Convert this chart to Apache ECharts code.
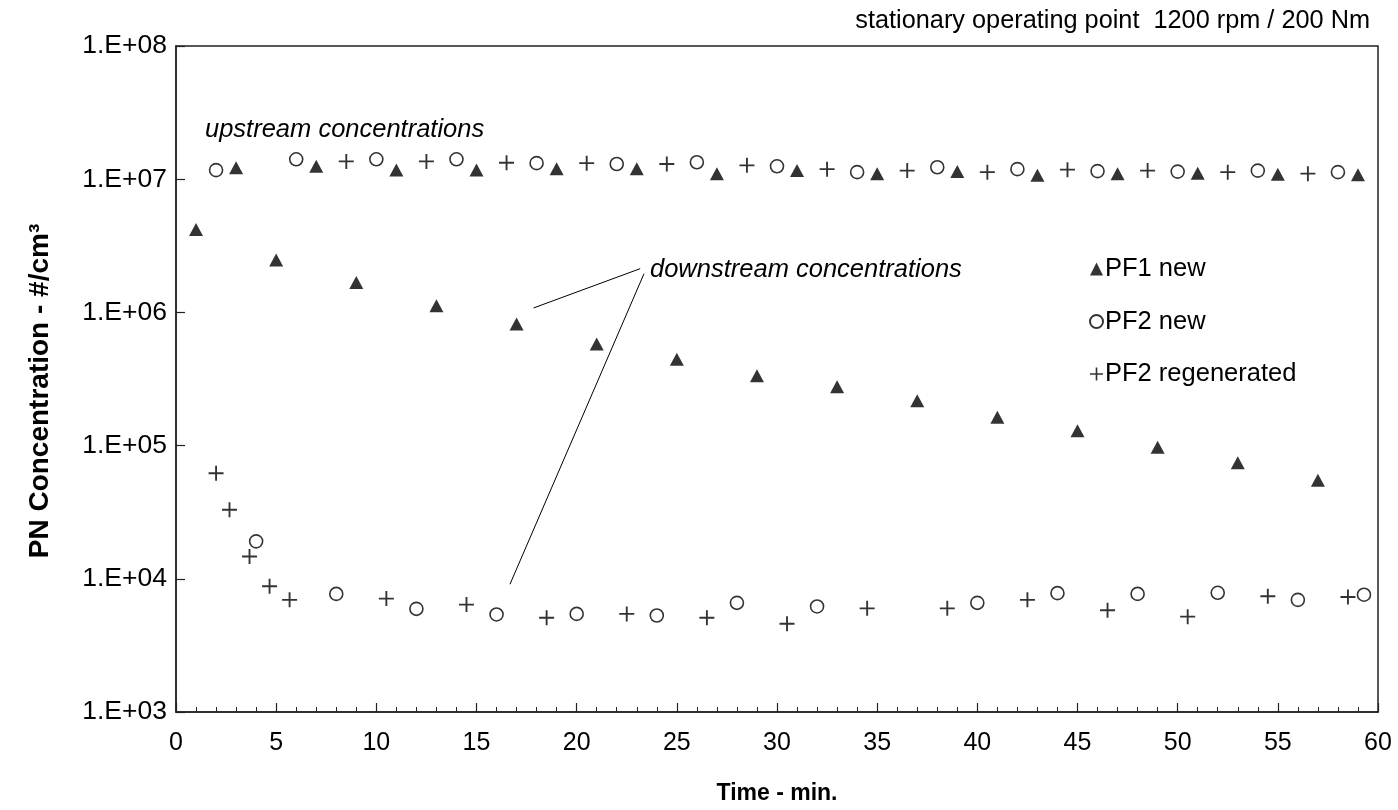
<!DOCTYPE html>
<html>
<head>
<meta charset="utf-8">
<script src="https://cdn.jsdelivr.net/npm/echarts/dist/echarts.min.js"></script>
<style>
html,body{margin:0;padding:0;background:#fff;}
#chart{width:1398px;height:810px;}
</style>
</head>
<body>
<div id="chart"></div>
<script>
// ---- data ----
const pf1Time = [1,3,5,7,9,11,13,15,17,19,21,23,25,27,29,31,33,35,37,39,41,43,45,47,49,51,53,55,57,59];
const pf1Value = [4.2e6,1.22e7,2.47e6,1.25e7,1.68e6,1.17e7,1.12e6,1.17e7,8.2e5,1.2e7,5.8e5,1.2e7,4.45e5,1.1e7,3.34e5,1.16e7,2.76e5,1.1e7,2.17e5,1.14e7,1.63e5,1.07e7,1.29e5,1.1e7,9.7e4,1.11e7,7.45e4,1.09e7,5.5e4,1.08e7];

const pf2Time = [2,4,6,8,10,12,14,16,18,20,22,24,26,28,30,32,34,38,40,42,44,46,48,50,52,54,56,58,59.3];
const pf2Value = [1.17e7,1.91e4,1.41e7,7.7e3,1.41e7,5.95e3,1.41e7,5.4e3,1.32e7,5.45e3,1.3e7,5.3e3,1.34e7,6.6e3,1.25e7,6.2e3,1.13e7,1.23e7,6.6e3,1.19e7,7.8e3,1.15e7,7.7e3,1.14e7,7.85e3,1.16e7,6.95e3,1.13e7,7.6e3];

const regTime = [2,2.67,3.67,4.67,5.67,8.5,10.5,12.5,14.5,16.5,18.5,20.5,22.5,24.5,26.5,28.5,30.5,32.5,34.5,36.5,38.5,40.5,42.5,44.5,46.5,48.5,50.5,52.5,54.5,56.5,58.5];
const regValue = [6.2e4,3.3e4,1.47e4,8.8e3,6.95e3,1.36e7,7.1e3,1.36e7,6.4e3,1.33e7,5.1e3,1.32e7,5.45e3,1.3e7,5.1e3,1.27e7,4.6e3,1.19e7,6.0e3,1.16e7,6.0e3,1.13e7,6.95e3,1.18e7,5.8e3,1.16e7,5.2e3,1.13e7,7.4e3,1.1e7,7.3e3];

const seriesNames = ['PF1 new','PF2 new','PF2 regenerated'];
const yTicks = [1e3,1e4,1e5,1e6,1e7,1e8];
const xTicks = [0,5,10,15,20,25,30,35,40,45,50,55,60];

// annotation leader lines (time, concentration)
const leaderA = [[17.85,1.08e6],[23.17,2.13e6]];
const leaderB = [[23.36,1.95e6],[16.67,9.1e3]];

const zip = (t, v) => t.map((x, i) => [x, v[i]]);
const FONT = '"Liberation Sans", Arial, sans-serif';
const PLUS = 'path://M0,7H7V0H9V7H16V9H9V16H7V9H0Z';

const chart = echarts.init(document.getElementById('chart'), null, {renderer:'canvas'});
chart.setOption({
  animation:false,
  backgroundColor:'#fff',
  textStyle:{fontFamily:FONT, color:'#000'},
  title:{
    text:'stationary operating point  1200 rpm / 200 Nm',
    right:23, top:4,
    textStyle:{fontFamily:FONT, fontSize:25.3, fontWeight:'normal', color:'#000'}
  },
  grid:{left:176, right:20, top:46, bottom:95, show:true, borderColor:'#222', borderWidth:1.5, containLabel:false},
  legend:{
    orient:'vertical', left:1084, top:251,
    itemWidth:13, itemHeight:13, itemGap:26.5,
    textStyle:{fontFamily:FONT, fontSize:25.5, color:'#000', padding:[0,0,0,-3]},
    data:[
      {name:seriesNames[0], icon:'triangle'},
      {name:seriesNames[1], icon:'circle'},
      {name:seriesNames[2], icon:PLUS}
    ]
  },
  xAxis:{
    type:'value', min:0, max:60, interval:5,
    name:'Time - min.', nameLocation:'middle', nameGap:70,
    nameTextStyle:{fontFamily:FONT, fontSize:23, fontWeight:'bold', color:'#000'},
    axisLine:{show:true, lineStyle:{color:'#222', width:1.5}},
    axisTick:{show:true, inside:true, length:9, lineStyle:{color:'#222', width:1.2}},
    minorTick:{show:true, splitNumber:5, length:5, lineStyle:{color:'#222', width:1}},
    axisLabel:{fontFamily:FONT, fontSize:25, color:'#000', margin:19,
      formatter:v => xTicks.includes(v) ? String(v) : ''},
    splitLine:{show:false}
  },
  yAxis:{
    type:'log', logBase:10, min:yTicks[0], max:yTicks[yTicks.length-1],
    axisLine:{show:true, lineStyle:{color:'#222', width:1.5}},
    axisTick:{show:true, inside:true, length:9, lineStyle:{color:'#222', width:1.2}},
    minorTick:{show:false},
    axisLabel:{fontFamily:FONT, fontSize:26.5, color:'#000', margin:9,
      formatter:v => '1.E+' + String(Math.round(Math.log10(v))).padStart(2,'0')},
    splitLine:{show:false}
  },
  graphic:[
    {type:'text', x:40, y:391, rotation:Math.PI/2,
      style:{text:'PN Concentration - #/cm³', font:'bold 28px ' + FONT, fill:'#000', align:'center', verticalAlign:'middle'}},
    {type:'text', left:205, top:117, style:{text:'upstream concentrations', font:'italic 25.5px ' + FONT, fill:'#000'}},
    {type:'text', left:650, top:257, style:{text:'downstream concentrations', font:'italic 25.5px ' + FONT, fill:'#000'}}
  ],
  series:[
    {
      name:seriesNames[0], type:'scatter', symbol:'triangle', symbolSize:[14,13],
      itemStyle:{color:'#000'},
      data:zip(pf1Time, pf1Value),
      markLine:{
        silent:true, symbol:'none', animation:false,
        lineStyle:{color:'#000', width:1, type:'solid'},
        label:{show:false},
        data:[
          [{coord:leaderA[0]},{coord:leaderA[1]}],
          [{coord:leaderB[0]},{coord:leaderB[1]}]
        ]
      },
      z:3
    },
    {
      name:seriesNames[1], type:'scatter', symbol:'circle', symbolSize:13,
      itemStyle:{color:'#fff', borderColor:'#000', borderWidth:1.6},
      data:zip(pf2Time, pf2Value), z:2
    },
    {
      name:seriesNames[2], type:'scatter', symbol:PLUS, symbolSize:15,
      itemStyle:{color:'#000'},
      data:zip(regTime, regValue), z:4
    }
  ]
});
</script>
</body>
</html>
